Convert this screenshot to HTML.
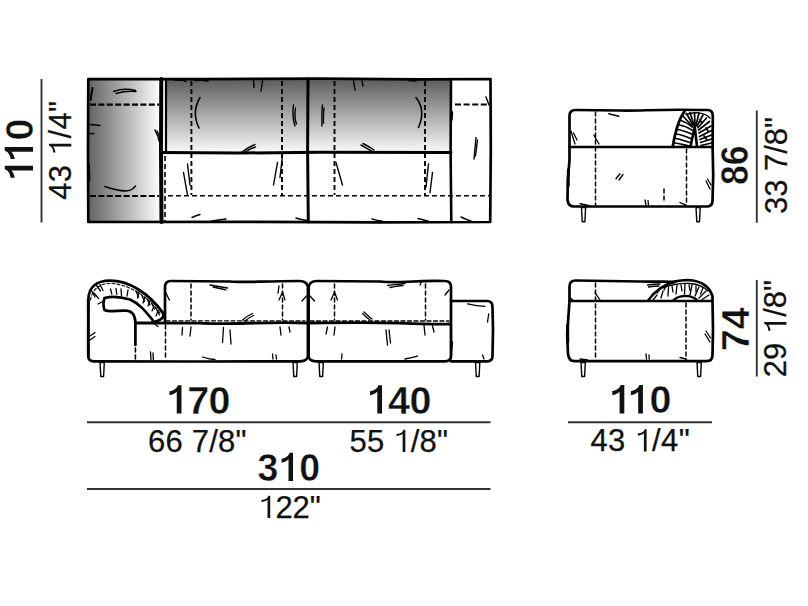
<!DOCTYPE html>
<html><head><meta charset="utf-8">
<style>
html,body{margin:0;padding:0;background:#fff;}
svg{display:block;}
text{font-family:"Liberation Sans",sans-serif;fill:#111;}
text.r{stroke:#111;stroke-width:0.25;}
text.b{font-weight:bold;stroke:#fff;stroke-width:0.45;}
text .one{fill:none;stroke:none;}
path.g1{fill:#111;stroke:none;}
</style></head>
<body>
<svg width="808" height="606" viewBox="0 0 808 606">
<defs>
<linearGradient id="gh" x1="0" y1="0" x2="1" y2="0">
<stop offset="0" stop-color="#626262"/><stop offset="0.93" stop-color="#f4f4f4"/><stop offset="1" stop-color="#ffffff"/>
</linearGradient>
<linearGradient id="gv" x1="0" y1="0" x2="0" y2="1">
<stop offset="0" stop-color="#5c5c5c"/><stop offset="1" stop-color="#fbfbfb"/>
</linearGradient>
</defs>
<!-- ================= TOP PLAN VIEW ================= -->
<g id="plan">
<rect x="88" y="79" width="73" height="143" fill="url(#gh)"/>
<rect x="166" y="79" width="285" height="74" fill="url(#gv)"/>
<g fill="none" stroke="#000" stroke-linecap="round" stroke-linejoin="round">
<path d="M88.3,79 L200,79.2 L320,78.6 L420,79.4 L490.5,79 L490.8,150 L490.2,222 L380,222.3 L250,221.8 L88.3,222 L88,150 Z" stroke-width="2.7"/>
<path d="M161.3,79 L161,150 L161.5,222" stroke-width="4"/>
<line x1="166" y1="80" x2="166" y2="152" stroke-width="2.2"/>
<path d="M308,79 L307.6,150 L308.3,222" stroke-width="3"/>
<path d="M451,79 L450.6,150 L451.3,222" stroke-width="2.6"/>
<path d="M161,152.5 L240,153 L320,152.3 L451,152.6" stroke-width="3"/>
</g>
<g fill="none" stroke="#000" stroke-width="2.1" stroke-dasharray="6 2.4">
<line x1="90" y1="104.6" x2="159" y2="104.6"/>
<line x1="90" y1="196" x2="159" y2="196"/>
</g>
<g fill="none" stroke="#000" stroke-width="1.6" stroke-dasharray="5 3">
<line x1="168" y1="195.7" x2="489" y2="195.7"/>
<line x1="165" y1="156" x2="165" y2="221"/>
</g>
<g fill="none" stroke="#000" stroke-width="2" stroke-dasharray="6 2.6">
<line x1="455" y1="104.6" x2="489" y2="104.6"/>
</g>
<g fill="none" stroke="#000" stroke-width="1.9" stroke-dasharray="5 3">
<line x1="191.4" y1="81" x2="191.4" y2="195"/>
<line x1="282" y1="81" x2="282" y2="195"/>
<line x1="334.5" y1="81" x2="334.5" y2="195"/>
<line x1="425" y1="81" x2="425" y2="195"/>
</g>
<!-- sketch marks -->
<g fill="none" stroke="#000" stroke-width="1.4" stroke-linecap="round">
<path d="M113.5,91.5 C120,89 128,88.5 135.5,90.5"/>
<path d="M116,93.5 C123,91.5 130,91 136,91.5"/>
<path d="M92.5,88 L90.5,100" stroke-width="2"/>
<path d="M90,124.5 L100,125.5"/>
<path d="M90,133.5 L94,133.5"/>
<path d="M155,130 C156,133 158,134 159,141"/>
<path d="M157,131 C158,134 160,136 160,140"/>
<path d="M105,186.5 C115,190 128,193 133,188.5 L135.5,186" stroke-width="1.6"/>
<path d="M89,165 L89.5,180" stroke-width="1.8"/>
<path d="M200,97.5 C195,106 193,116 199,128" stroke-width="1.6"/>
<path d="M253.5,80 L254,87.5"/>
<path d="M262.5,81 L261,91"/>
<path d="M293.5,105 C292.5,112 293,120 295,126"/>
<path d="M295.5,108 C294.5,114 295,120 296.5,124"/>
<path d="M322.5,105 C321.5,112 322,119 322,126"/>
<path d="M324,108 C323,114 323.5,119 323.5,123"/>
<path d="M242,152 C246,149 251,146 255,144.5"/>
<path d="M245,152 C248,150 252,148 255.5,147"/>
<path d="M353.5,81 L355,90"/>
<path d="M362,81 L363,86"/>
<path d="M416,97.5 C422,105 424,115 418.5,127.5" stroke-width="1.6"/>
<path d="M361,145 C365,147 369,150 372.5,151.5"/>
<path d="M363,143.5 C367,145.5 371,148 374,150"/>
<path d="M183.5,172.5 L187.5,195"/>
<path d="M187.5,164 L190,185"/>
<path d="M273.5,185 L277.5,162.5"/>
<path d="M280,177.5 L282.5,155"/>
<path d="M336,162.5 L342.5,185"/>
<path d="M428.5,164 L426,187"/>
<path d="M432.5,172.5 L430,192.5"/>
<path d="M476,137.5 L474,159"/>
<path d="M477.5,140 L475.5,156"/>
<path d="M486,97 L489,105"/>
<path d="M452.5,112 L452,120"/>
<path d="M192,217.5 C195,216 198,215 200,214.5"/>
<path d="M212,221 C218,220 222,219.5 226,219"/>
<path d="M296,218 C300,219.5 304,220 307,220.5"/>
<path d="M372,219 C376,220 379,221 382,221"/>
<path d="M418,218.5 C422,219.5 425,220.5 428,221"/>
<path d="M461,217 C464,218.5 467,220 471,221"/>
<path d="M409,80.5 L416,81"/>
<path d="M195,80.5 C200,80 204,80 208,81"/>
<path d="M175,80 C180,79.8 184,80 186,81.5"/>
</g>
</g>
<!-- ================= FRONT VIEW ================= -->
<g id="front" fill="none" stroke="#000" stroke-linecap="round" stroke-linejoin="round">
<!-- chaise arm outer -->
<path d="M88.3,356 L88.3,300 C88.5,288 96,280.7 110,280.7 C128,280.7 148,292 163,313 C164.5,317 162,319.6 157,321 L152,322.5" stroke-width="2.8"/>
<path d="M90.5,300 C92,290 99,283.5 110,283.5 C126,283.5 146,294 160,313" stroke-width="1.1" stroke-dasharray="3 2"/>
<!-- inner hook -->
<path d="M153,320.5 C146,312 140,304 130,299.5 C120,296.5 110,296.5 104.5,298 C103.3,302 103.3,307 104.5,310 C108,312 118,311 125,310.5 C131,310.5 135,314 135.4,322 L135.4,345" stroke-width="2.7"/>
<line x1="135.4" y1="348" x2="135.4" y2="359" stroke-width="1.6" stroke-dasharray="4 3"/>
<!-- arm hatching -->
<g stroke-width="1.3">
<path d="M91.5,290.5 L95,297"/><path d="M94,293 L98.5,298.5"/>
<path d="M96.5,285.5 L100.5,291"/><path d="M100,284.5 L103,290.5"/>
<path d="M104,301 L98,304"/>
<path d="M110.5,289 L111.8,294"/><path d="M116,288.5 L116.8,294.5"/>
<path d="M121,289 L121.5,295.5"/>
<path d="M128,290 L127,296"/>
<path d="M136,291 L138.5,297"/><path d="M139,292 L137.5,298"/>
<path d="M142,295.5 L144.5,301.5"/><path d="M145,297 L143,303"/>
<path d="M147,299 L150,305"/><path d="M150,301 L148,306"/>
<path d="M151.5,303 L154.5,309"/><path d="M154,306 L152,311"/>
<path d="M155.8,308 L159.5,315"/><path d="M158,311 L156,316"/>
<path d="M152,322 L158,326.5" />
</g>
<!-- base left -->
<path d="M88.3,300 L88.3,356 C88.3,359.5 90,361.3 94,361.3 L200,361.5 L300,361.3" stroke-width="2.7"/>
<!-- module1 back cushion -->
<path d="M165,322.5 L165,287 C165,283 167,281 171,281 L230,281.5 C245,283 260,281 300,281 C305,281 308.3,284 308.3,290 L308.3,322.5" stroke-width="2.7"/>
<!-- module1 seat -->
<path d="M136,323 L200,323.2 C230,325 260,321.5 308.3,323 L308.3,355 C308.3,359 305,361.3 300,361.3" stroke-width="2.8"/>
<line x1="166" y1="320.8" x2="305" y2="320.8" stroke-width="1.2" stroke-dasharray="4 2.5"/>
<!-- module2 back -->
<path d="M308.3,322.5 L308.3,290 C308.3,284 311.5,281 316,281 L380,281.5 C400,284 410,280 445,281 C449,281 451,283 451,287 L451,322.5" stroke-width="2.7"/>
<path d="M308.3,323 C340,322.5 370,322 400,323.2 C420,324 440,324.5 451,324 L451,356 C451,359.5 449,361.3 445,361.3 L316,361.3 C311.5,361.3 308.3,359 308.3,355" stroke-width="2.8"/>
<line x1="310" y1="321" x2="449" y2="321" stroke-width="1.3" stroke-dasharray="4 2.5"/>
<line x1="308.3" y1="288" x2="308.3" y2="356" stroke-width="3.4"/>
<!-- right arm -->
<path d="M451,301 L487,301 C491,301 492.5,303 492.5,307 L493,330 L492.5,356 C492.5,359.5 491,361.3 487,361.3 L451,361.3" stroke-width="2.7"/>
<g stroke-width="1.5" stroke-dasharray="4 3">
<line x1="165.5" y1="325" x2="165.5" y2="360"/>
<line x1="191" y1="284" x2="191" y2="320"/>
<line x1="282.5" y1="284" x2="282.5" y2="320"/>
<line x1="334.5" y1="284" x2="334.5" y2="320"/>
<line x1="425.5" y1="284" x2="425.5" y2="320"/>
</g>
<!-- marks -->
<g stroke-width="1.3">
<path d="M90,336 L95,332.5"/><path d="M90,340 L95,336.5"/>
<path d="M165.5,292 C167,295 168,298 169.5,300"/>
<path d="M210,285 C216,286 222,287 227.5,288"/><path d="M213,287 C218,288 223,289 226,290"/>
<path d="M242.5,320 C246,317 249,315 252.5,313.5"/><path d="M245,321 C248,318.5 251,316.5 253.5,315.5"/>
<path d="M279,286 L278,293"/>
<path d="M182.5,327.5 L182,335"/><path d="M191,327 L190,336"/>
<path d="M223.5,327.5 L222.5,342.5"/><path d="M230,330 L231,344"/>
<path d="M150.5,352 L151,359.5"/><path d="M153,353 L153.3,359.5"/>
<path d="M202.5,357 C207,358.5 211,359.5 215,359.5"/>
<path d="M272.5,354 L273,359"/><path d="M276,355 L276.5,359"/>
<path d="M279,300 L282.5,292 L285,300"/>
<path d="M302,301 L306.5,296"/><path d="M310,296 L314.5,301"/>
<path d="M331,300 L334.5,292 L337.5,300"/>
<path d="M387.5,285.5 C393,285 399,284 405,283.5"/><path d="M390,287.5 C395,286.5 400,285.5 403,285.5"/>
<path d="M362.5,313.5 C365,316 367,318 370,320"/><path d="M364,312 C367,314.5 369,317 372,319"/>
<path d="M420,285 L421.5,281.5"/>
<path d="M445,295 L449,290"/>
<path d="M280,327 L281,335"/><path d="M289,327 L290,332"/>
<path d="M327.5,327 L326,334"/><path d="M335,327 L334,335"/>
<path d="M386,330 L387.5,345"/><path d="M389,330 L390.5,343"/>
<path d="M424,325 L425,335"/><path d="M432.5,326 L434,332"/>
<path d="M342,354 L341.5,359"/>
<path d="M405,359 C410,358 414,357 417.5,356"/>
<path d="M452.5,342 L451.5,352"/>
<path d="M467.5,303.8 C473,305 479,306 485,306.3"/>
<path d="M488.7,314 L487.5,322"/>
<path d="M482.5,355 L484,359"/>
</g>
<!-- legs -->
<g stroke-width="1.4" fill="#fff">
<path d="M100,362.5 L104.3,362.5 L103.6,376.5 L100.8,376.5 Z"/>
<path d="M293,362.5 L297.3,362.5 L296.6,376.5 L293.8,376.5 Z"/>
<path d="M319,362.5 L323.3,362.5 L322.6,376.5 L319.8,376.5 Z"/>
<path d="M475.5,362.5 L479.8,362.5 L479.1,376.5 L476.3,376.5 Z"/>
</g>
</g>
<!-- ================= SIDE VIEW (top right) ================= -->
<g id="side1" fill="none" stroke="#000" stroke-linecap="round" stroke-linejoin="round">
<path d="M569.5,147 L569.5,116 C569.5,112 571.5,110 575.5,110 L620,110.5 C640,111 660,109 700,110 L707.5,110 C710.5,110 712.8,112 712.8,116 L712.6,147" stroke-width="2.7"/>
<path d="M569.5,147 L712.6,147 L713.2,175 L712.5,201 C712.5,204.5 710.5,206.5 706.5,206.5 L574,206.5 C570,206.5 568,204 567.5,200 L567.8,180 L569.5,160 Z" stroke-width="2.7"/>
<!-- arm roll -->
<path d="M672.8,146.5 C675,133 678,120 684.5,111.5" stroke-width="2.8"/>
<path d="M690.5,146.5 L694.7,126.5 L697,146.5" stroke-width="2.6"/>
<g stroke-width="1.7">
<path d="M675,143 C679,143.5 684,145 689,146"/>
<path d="M675.5,138.5 C680,139 685,141 690,142.5"/>
<path d="M676.5,134 C681,134.5 686,136.5 690.5,138.5"/>
<path d="M677.5,129.5 C682,130 687,132 691.5,134"/>
<path d="M679,125 C683,125.5 688,127.5 692,130"/>
<path d="M681,120.5 C684,121.5 688,123.5 692.5,127"/>
<path d="M683,116 L692,126"/>
<path d="M686.5,113.5 L693,125"/>
<path d="M690,112.5 L694,125"/>
<path d="M694.5,112.5 L695,125"/>
<path d="M699,113 L696,125.5"/>
<path d="M703,115 L697,126"/>
<path d="M706.5,118 L698,127.5"/>
<path d="M709.5,121.5 L698.5,130"/>
<path d="M711,126 L699,133"/>
<path d="M711.5,130.5 L699.5,136.5"/>
<path d="M711.5,135 L700,139.5"/>
<path d="M711.5,139 L700.5,142.5"/>
<path d="M711.5,143 L701,145.5"/>
<path d="M686,114.5 C694,111.5 704,112 710,118" stroke-width="1.5"/>
<path d="M700,120 L702,123"/>
<path d="M706,128 L708,131"/>
<path d="M704,136 L707,140"/>
</g>
<g stroke-width="1.5" stroke-dasharray="4 3">
<line x1="595.5" y1="112" x2="595.5" y2="205"/>
<line x1="686.5" y1="149" x2="686.5" y2="205"/>
<line x1="664" y1="189" x2="664" y2="202"/>
</g>
<g stroke-width="1.3">
<path d="M608.75,113.75 L618.75,116.25"/>
<path d="M571,131 L575,144"/><path d="M573.5,133 L577,140"/>
<path d="M593.75,135 L599,144"/>
<path d="M568.3,170 L568.3,186" stroke-width="2.8"/>
<path d="M616,178.75 L620,173.75"/><path d="M619,180 L623,174.5"/>
<path d="M645,200 L646,205"/><path d="M648,200.5 L648.5,205"/>
<path d="M580,203.75 C584,204.5 587,205 590,206"/>
<path d="M680,202.5 C682,203.5 684,204.5 686,205"/>
<path d="M706,181 L710,189"/><path d="M707.5,179 L711,185"/>
</g>
<g stroke-width="1.4" fill="#fff">
<path d="M581.5,207.5 L585.6,207.5 L584.9,221.8 L582.2,221.8 Z"/>
<path d="M696,207.5 L700.2,207.5 L699.5,221.8 L696.8,221.8 Z"/>
</g>
</g>

<!-- ================= SIDE VIEW (bottom right) ================= -->
<g id="side2" fill="none" stroke="#000" stroke-linecap="round" stroke-linejoin="round">
<path d="M569.5,301 L569.5,286.5 C569.5,282.5 571.5,280.5 575.5,280.5 L640,281.5 C655,282 665,281 672.7,281.9 C680,280.5 684,280 687.5,280 C696,280.5 702,283 704.4,284.9 C709,288 711,292 712.5,296 L712.5,301" stroke-width="2.7"/>
<path d="M569.5,301 L712.5,301 L713,330 L712.5,355 C712.5,359 710.5,361.2 706.5,361.2 L574.5,361.2 C570.5,361.2 568.5,358 568,354 L567.2,335 L568.5,315 L569.5,301" stroke-width="2.7"/>
<path d="M647.9,300.7 C655,291 664,284 675,282" stroke-width="2.4"/>
<path d="M672.7,300.7 C676,297.5 680,296 684.6,295.8 C690,295.8 694,297 697,300" stroke-width="2.2"/>
<g stroke-width="1.3">
<path d="M653,300 L657,295"/>
<path d="M657,293 L660,289"/>
<path d="M661,298 L663,291"/>
<path d="M663,288 C670,285 680,283 690,283.5 C698,284 704,287 708,291"/>
<path d="M664,290 L666,286.5"/>
<path d="M668,296 L668.5,287"/>
<path d="M672,286 L673,292"/>
<path d="M677,285 L676,294"/>
<path d="M681,285 L682,291"/>
<path d="M685,284 L684.5,294"/>
<path d="M689,285 L690,290.5"/>
<path d="M692,285 L690,295"/>
<path d="M696,286 L696,292"/>
<path d="M699,287 L695,296"/>
<path d="M703,288 L700.5,294"/>
<path d="M706,291 L699,298"/>
<path d="M709,295 L702,299.5"/>
</g>
<g stroke-width="1.5" stroke-dasharray="4 3">
<line x1="595.5" y1="283" x2="595.5" y2="360"/>
<line x1="686" y1="303" x2="686" y2="360"/>
</g>
<g stroke-width="1.3">
<path d="M647.5,285 C651,284.5 655,284 660,284"/><path d="M648.5,287 C652,286.5 656,286 659,286"/>
<path d="M570,297.5 L572.5,300"/>
<path d="M567.6,325 L567.8,342" stroke-width="3"/>
<path d="M595,292.5 L600,300"/>
<path d="M646,354 L646.5,359"/><path d="M649,355 L649.2,359"/>
<path d="M580,359 L587.5,360"/>
<path d="M680,357.5 L686,359"/>
<path d="M705,334 L710,342"/><path d="M706,331 L710.5,338"/>
</g>
<g stroke-width="1.4" fill="#fff">
<path d="M581,362.5 L585.3,362.5 L584.6,376.5 L581.8,376.5 Z"/>
<path d="M697,362.5 L701.3,362.5 L700.6,376.5 L697.8,376.5 Z"/>
</g>
</g>
<!-- ================= DIMENSIONS ================= -->
<g stroke="#333" stroke-width="1.9">
<line x1="41.5" y1="79" x2="41.5" y2="222.5"/>
<line x1="756.8" y1="110.5" x2="756.8" y2="222.7"/>
<line x1="756.8" y1="280" x2="756.8" y2="376.5"/>
<line x1="87" y1="422.2" x2="490.5" y2="422.2"/>
<line x1="568" y1="422.2" x2="712" y2="422.2"/>
<line x1="87" y1="489" x2="490.5" y2="489"/>
</g>
<!-- texts -->
<g transform="translate(198.75,0)"><text class="b" y="413.50" font-size="39.50"><tspan x="-32.74" class="one">1</tspan><tspan x="-11.48">7</tspan><tspan x="9.78">0</tspan></text><path class="g1" d="M-17.26,413.50L-17.26,385.22L-20.89,385.22C-21.49,387.63 -23.46,389.40 -26.23,390.39C-27.41,390.79 -28.40,391.06 -29.27,391.18L-29.27,395.25C-26.42,394.86 -23.86,393.63 -22.00,391.85L-22.00,413.50Z"/></g>
<g transform="translate(400.00,0)"><text class="b" y="413.50" font-size="39.50"><tspan x="-33.44" class="one">1</tspan><tspan x="-11.98">4</tspan><tspan x="9.48">0</tspan></text><path class="g1" d="M-17.96,413.50L-17.96,385.22L-21.59,385.22C-22.19,387.63 -24.16,389.40 -26.93,390.39C-28.11,390.79 -29.10,391.06 -29.97,391.18L-29.97,395.25C-27.12,394.86 -24.56,393.63 -22.70,391.85L-22.70,413.50Z"/></g>
<g transform="translate(640.40,0)"><text class="b" y="413.40" font-size="39.50"><tspan x="-31.56" class="one">1</tspan><tspan x="-12.96" class="one">1</tspan><tspan x="9.00">0</tspan></text><path class="g1" d="M-16.08,413.40L-16.08,385.12L-19.71,385.12C-20.31,387.53 -22.28,389.30 -25.05,390.29C-26.23,390.69 -27.22,390.96 -28.09,391.08L-28.09,395.15C-25.24,394.76 -22.68,393.53 -20.82,391.75L-20.82,413.40Z M2.52,413.40L2.52,385.12L-1.11,385.12C-1.70,387.53 -3.68,389.30 -6.44,390.29C-7.63,390.69 -8.61,390.96 -9.48,391.08L-9.48,395.15C-6.64,394.76 -4.07,393.53 -2.22,391.75L-2.22,413.40Z"/></g>
<g transform="translate(288.75,0) scale(0.950,1)"><text class="b" y="481.00" font-size="39.50"><tspan x="-32.94">3</tspan><tspan x="-10.98" class="one">1</tspan><tspan x="10.98">0</tspan></text><path class="g1" d="M4.50,481.00L4.50,452.72L0.87,452.72C0.28,455.13 -1.70,456.90 -4.46,457.89C-5.65,458.29 -6.64,458.56 -7.51,458.68L-7.51,462.75C-4.66,462.36 -2.09,461.13 -0.24,459.35L-0.24,481.00Z"/></g>
<g transform="translate(33.00,149.50) rotate(-90)"><text class="b" y="0.00" font-size="39.50"><tspan x="-31.66" class="one">1</tspan><tspan x="-13.06" class="one">1</tspan><tspan x="8.90">0</tspan></text><path class="g1" d="M-16.18,0.00L-16.18,-28.28L-19.81,-28.28C-20.41,-25.87 -22.38,-24.09 -25.15,-23.11C-26.33,-22.71 -27.32,-22.44 -28.19,-22.32L-28.19,-18.25C-25.34,-18.64 -22.78,-19.87 -20.92,-21.65L-20.92,0.00Z M2.42,0.00L2.42,-28.28L-1.21,-28.28C-1.80,-25.87 -3.78,-24.09 -6.54,-23.11C-7.73,-22.71 -8.71,-22.44 -9.58,-22.32L-9.58,-18.25C-6.74,-18.64 -4.17,-19.87 -2.32,-21.65L-2.32,0.00Z"/></g>
<g transform="translate(748.40,165.50) rotate(-90) scale(0.900,1)"><text class="b" y="0.00" font-size="39.50"><tspan x="-21.66">8</tspan><tspan x="0.30">6</tspan></text><path class="g1" d=""/></g>
<g transform="translate(748.50,328.60) rotate(-90)"><text class="b" y="0.00" font-size="39.50"><tspan x="-22.66">7</tspan><tspan x="-0.70">4</tspan></text><path class="g1" d=""/></g>
<g transform="translate(197.75,0)"><text class="r" y="452.00" font-size="31.00"><tspan x="-49.84">6</tspan><tspan x="-32.36">6</tspan><tspan x="-14.87">&#160;</tspan><tspan x="-6.00">7</tspan><tspan x="11.48">/</tspan><tspan x="20.35">8</tspan><tspan x="37.84">&quot;</tspan></text><path class="g1" d=""/></g>
<g transform="translate(399.25,0)"><text class="r" y="452.00" font-size="31.00"><tspan x="-49.84">5</tspan><tspan x="-32.36">5</tspan><tspan x="-14.87">&#160;</tspan><tspan x="-6.00" class="one">1</tspan><tspan x="11.48">/</tspan><tspan x="20.35">8</tspan><tspan x="37.84">&quot;</tspan></text><path class="g1" d="M6.09,452.00L6.09,429.80L4.23,429.80C3.76,431.54 2.37,432.94 0.20,433.49C-0.73,433.71 -1.82,433.83 -2.69,433.90L-2.69,436.19C-0.42,435.94 1.75,435.11 3.39,433.77L3.39,452.00Z"/></g>
<g transform="translate(640.00,0)"><text class="r" y="451.40" font-size="31.00"><tspan x="-49.64">4</tspan><tspan x="-32.06">3</tspan><tspan x="-14.47">&#160;</tspan><tspan x="-5.50" class="one">1</tspan><tspan x="12.08">/</tspan><tspan x="21.05">4</tspan><tspan x="38.64">&quot;</tspan></text><path class="g1" d="M6.59,451.40L6.59,429.20L4.73,429.20C4.26,430.94 2.87,432.33 0.70,432.89C-0.23,433.11 -1.32,433.23 -2.19,433.30L-2.19,435.59C0.08,435.34 2.25,434.50 3.89,433.17L3.89,451.40Z"/></g>
<g transform="translate(290.50,0)"><text class="r" y="518.00" font-size="31.00"><tspan x="-32.36" class="one">1</tspan><tspan x="-15.12">2</tspan><tspan x="2.12">2</tspan><tspan x="19.35">&quot;</tspan></text><path class="g1" d="M-20.27,518.00L-20.27,495.80L-22.13,495.80C-22.59,497.54 -23.99,498.94 -26.16,499.49C-27.09,499.71 -28.17,499.83 -29.04,499.90L-29.04,502.19C-26.78,501.94 -24.61,501.11 -22.96,499.77L-22.96,518.00Z"/></g>
<g transform="translate(71.30,150.50) rotate(-90)"><text class="r" y="0.00" font-size="31.00"><tspan x="-49.24">4</tspan><tspan x="-31.76">3</tspan><tspan x="-14.27">&#160;</tspan><tspan x="-5.40" class="one">1</tspan><tspan x="12.08">/</tspan><tspan x="20.95">4</tspan><tspan x="38.44">&quot;</tspan></text><path class="g1" d="M6.69,0.00L6.69,-22.20L4.83,-22.20C4.36,-20.46 2.97,-19.07 0.80,-18.51C-0.13,-18.29 -1.22,-18.17 -2.09,-18.10L-2.09,-15.81C0.18,-16.06 2.35,-16.89 3.99,-18.23L3.99,0.00Z"/></g>
<g transform="translate(786.50,165.50) rotate(-90)"><text class="r" y="0.00" font-size="31.00"><tspan x="-48.59">3</tspan><tspan x="-31.36">3</tspan><tspan x="-14.12">&#160;</tspan><tspan x="-5.50">7</tspan><tspan x="11.73">/</tspan><tspan x="20.35">8</tspan><tspan x="37.59">&quot;</tspan></text><path class="g1" d=""/></g>
<g transform="translate(786.40,328.70) rotate(-90)"><text class="r" y="0.00" font-size="31.00"><tspan x="-48.49">2</tspan><tspan x="-31.26">9</tspan><tspan x="-14.02">&#160;</tspan><tspan x="-5.40" class="one">1</tspan><tspan x="11.83">/</tspan><tspan x="20.45">8</tspan><tspan x="37.69">&quot;</tspan></text><path class="g1" d="M6.69,0.00L6.69,-22.20L4.83,-22.20C4.36,-20.46 2.97,-19.07 0.80,-18.51C-0.13,-18.29 -1.22,-18.17 -2.09,-18.10L-2.09,-15.81C0.18,-16.06 2.35,-16.89 3.99,-18.23L3.99,0.00Z"/></g>
</svg>
</body></html>
